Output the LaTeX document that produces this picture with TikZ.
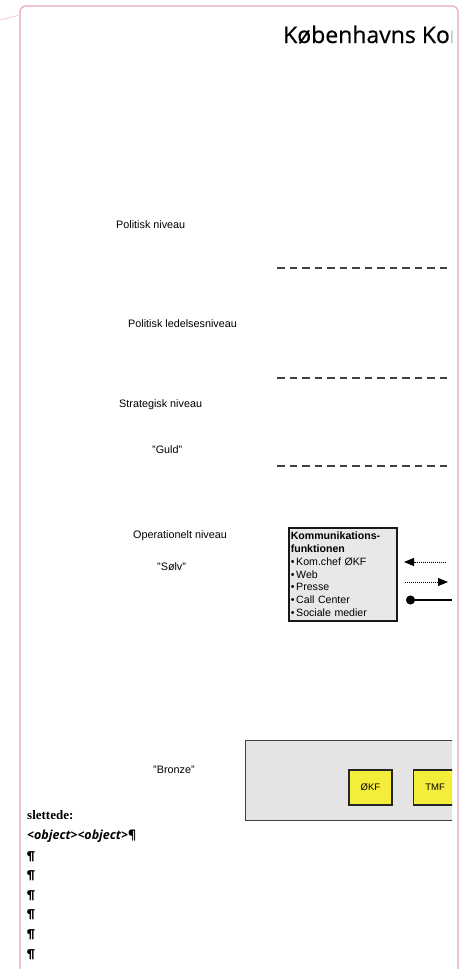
\documentclass[tikz,border=0pt]{standalone}
\usepackage{fontspec}
\setmainfont{Liberation Sans}
\newfontfamily\titlefont[FakeBold=0.6]{Open Sans}
\newfontfamily\objfont{Open Sans}
\newfontfamily\notefont{Carlito}
\newfontfamily\notesans{Liberation Serif}
\usetikzlibrary{arrows.meta, positioning}
\definecolor{framepink}{HTML}{E6A3BC}
\definecolor{boxgray}{HTML}{E4E4E4}
\definecolor{unityellow}{HTML}{F4EE3A}
\tikzset{
    level/.style={anchor=base west, inner sep=0pt, font=\fontsize{10.8}{12}\selectfont},
    divider/.style={draw=black!75, line width=1.8pt, dash pattern=on 7.5pt off 5pt},
    unitbox/.style={draw=black!85, line width=1.6pt, fill=unityellow, minimum width=43pt, minimum height=35pt, font=\fontsize{9.5}{10}\selectfont, inner sep=0pt},
    pil/.style={anchor=base west, inner sep=0pt, font=\notefont\bfseries\fontsize{13}{15}\selectfont},
    dotline/.style={draw, line width=0.9pt, dash pattern=on 0.9pt off 1.1pt}
}

\begin{document}
\begin{tikzpicture}[x=1pt, y=-1pt]
    \useasboundingbox (0,0) rectangle (465,969);

    % page frame
    \draw [framepink, line width=1.2pt, rounded corners=6pt] (20,1010) -- (20,6) -- (458,6) -- (458,1010);
    \draw [framepink!60, line width=0.8pt] (0,20) -- (20,15);

    \begin{scope}
    \clip (20,6) rectangle (452,969);

    \node [anchor=base west, inner sep=0pt, font=\titlefont\fontsize{23}{26}\selectfont] (title) at (283,43) {Københavns Kommune};

    % levels
    \node [level] (polNiveau) at (116,228) {Politisk niveau};
    \node [level] (polLedelse) at (128,327) {Politisk ledelsesniveau};
    \node [level] (stratNiveau) at (119,407) {Strategisk niveau};
    \node [level] (guld) at (152,453) {"Guld"};
    \node [level] (opNiveau) at (133,538) {Operationelt niveau};
    \node [level] (solv) at (157,570) {"Sølv"};
    \node [level] (bronze) at (153,773) {"Bronze"};

    \foreach \y in {268,378,466}
        \draw [divider] (277,\y) -- (450,\y);

    % communication box
    \node [anchor=north west, draw=black!90, fill=boxgray!85, line width=1.5pt, inner sep=2pt,
           text width=104pt, minimum height=93pt, align=left,
           font=\fontsize{10.6}{12.8}\selectfont] (komm) at (288,527)
        {\textbf{Kommunikations-}\\\textbf{funktionen}\\\textbullet\,Kom.chef ØKF\\\textbullet\,Web\\\textbullet\,Presse\\\textbullet\,Call Center\\\textbullet\,Sociale medier};

    \coordinate (inFrom) at (446,562);
    \coordinate (inTo) at (404,562);
    \coordinate (outFrom) at (405,582);
    \coordinate (outTo) at (448,582);
    \coordinate (linkFrom) at (406,600);
    \coordinate (linkTo) at (452,600);
    \draw [dotline, -{Triangle[length=10pt, width=8pt]}] (inFrom) -- (inTo);
    \draw [dotline, -{Triangle[length=10pt, width=8pt]}] (outFrom) -- (outTo);
    \draw [line width=1.4pt, {Circle[length=9pt]}-] (linkFrom) -- (linkTo);

    % bronze box
    \node [anchor=north west, draw=black!75, fill=boxgray, line width=1.3pt, minimum width=240pt, minimum height=80pt] (bronzeBox) at (245,740) {};
    \node [unitbox] (okf) at (370.5,787.5) {ØKF};
    \node [unitbox, right=20pt of okf] (tmf) {TMF};
    \end{scope}

    % deleted text
    \node [anchor=base west, inner sep=0pt, font=\notesans\bfseries\fontsize{13}{15}\selectfont] (slettede) at (27,819) {slettede:};
    \node [anchor=base west, inner sep=0pt, font=\objfont\bfseries\itshape\fontsize{12.5}{15}\selectfont] (objects) at (27,839) {<object><object>¶};
    \foreach \i in {0,...,5}
        \node [pil] (pil\i) at (27,860+19.6*\i) {¶};
\end{tikzpicture}
\end{document}
